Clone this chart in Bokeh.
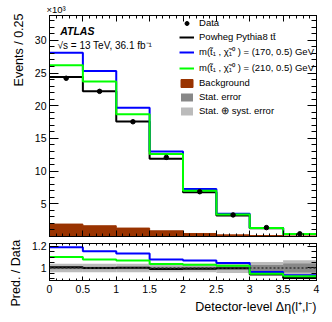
import numpy as np
from bokeh.plotting import figure
from bokeh.layouts import column
from bokeh.models import (FixedTicker, LinearAxis, Title, Label, Legend, LegendItem,
                          Span, CustomJSTickFormatter)
from bokeh.embed import file_html
from bokeh.resources import INLINE

# ---- data ----
edges = [0, 0.5, 1.0, 1.5, 2.0, 2.5, 3.0, 3.5, 4.0]
data = [24.2, 22.2, 17.55, 12.1, 6.85, 3.3, 1.36, 0.41]
powheg = [24.4, 22.2, 17.6, 11.9, 6.75, 3.2, 1.28, 0.37]
stop170 = [28.1, 25.3, 19.7, 13.0, 7.27, 3.48, 1.31, 0.38]
stop210 = [26.2, 23.7, 18.7, 12.6, 7.0, 3.35, 1.29, 0.37]
background = [1.9, 1.64, 1.29, 0.87, 0.46, 0.25, 0.15, 0.08]

ratio_powheg = [1.006, 1.0, 1.003, 0.99, 0.993, 0.998, 0.94, 0.908]
ratio_170 = [1.19, 1.154, 1.133, 1.077, 1.068, 1.046, 0.963, 0.933]
ratio_210 = [1.10, 1.077, 1.068, 1.037, 1.03, 1.02, 0.948, 0.925]
rel_stat = [0.012, 0.012, 0.012, 0.012, 0.012, 0.015, 0.028, 0.042]
rel_syst = [0.04, 0.04, 0.04, 0.04, 0.04, 0.045, 0.055, 0.07]

FONT = "Liberation Sans"
BLUE = "#0000ff"
GREEN = "#00ff00"
BROWN = "#993300"
DGREY = "#888888"
LGREY = "#bbbbbb"

lefts = edges[:-1]
rights = edges[1:]
centers = [(a + b) / 2 for a, b in zip(lefts, rights)]


def stepy(v):
    return list(v) + [v[-1]]


fmt = CustomJSTickFormatter(code="return (Math.round(tick*1000)/1000).toString();")
blank = CustomJSTickFormatter(code="return '';")


def style_axis(ax, major_in, minor_in, label_size="10.5px"):
    ax.axis_line_color = "black"
    ax.major_tick_line_color = "black"
    ax.minor_tick_line_color = "black"
    ax.major_tick_out = 0
    ax.minor_tick_out = 0
    ax.major_tick_in = major_in
    ax.minor_tick_in = minor_in
    ax.major_label_text_font = FONT
    ax.major_label_text_font_size = label_size
    ax.major_label_text_color = "black"
    ax.major_label_standoff = 3


def bare_axis(ax, major_in, minor_in):
    style_axis(ax, major_in, minor_in)
    ax.formatter = blank
    ax.major_label_standoff = 0


xticks = FixedTicker(ticks=edges, minor_ticks=[i / 10 for i in range(41)])
yticks_main = FixedTicker(ticks=[5, 10, 15, 20, 25, 30], minor_ticks=list(range(0, 35)))
yticks_ratio = FixedTicker(ticks=[1.0, 1.2], minor_ticks=[0.9, 0.95, 1.05, 1.1, 1.15])

# ---- main panel ----
p1 = figure(width=324, height=239, x_range=(0, 4), y_range=(0, 33.8),
            output_backend="svg", toolbar_location=None,
            min_border_left=49, min_border_right=8, min_border_top=15, min_border_bottom=3,
            background_fill_color="white", border_fill_color="white",
            outline_line_color="black")
p1.grid.visible = False

# the "x10^3" scale marker, top left above the frame
p1.title.text = "×10³"
p1.title.align = "left"
p1.title.offset = -3
p1.title.standoff = 1
p1.title.text_font = FONT
p1.title.text_font_size = "9.5px"
p1.title.text_font_style = "normal"
p1.title.text_color = "black"

r_bg = p1.quad(left=lefts, right=rights, bottom=0, top=background,
               fill_color=BROWN, line_color=BROWN)
r_pow = p1.step(edges, stepy(powheg), mode="after", line_color="black", line_width=2)
r_170 = p1.step(edges, stepy(stop170), mode="after", line_color=BLUE, line_width=2)
r_210 = p1.step(edges, stepy(stop210), mode="after", line_color=GREEN, line_width=2)
r_data = p1.scatter(centers, data, size=4.5, color="black")
# zero-height bands (only their legend entries are visible in the main panel)
r_stat = p1.quad(left=lefts, right=rights, bottom=powheg, top=powheg,
                 fill_color=DGREY, line_alpha=0)
r_syst = p1.quad(left=lefts, right=rights, bottom=powheg, top=powheg,
                 fill_color=LGREY, line_alpha=0)

p1.xaxis.ticker = xticks
p1.yaxis.ticker = yticks_main
bare_axis(p1.xaxis[0], 6, 3)
style_axis(p1.yaxis[0], 9, 5)

ax_r = LinearAxis(ticker=yticks_main)
bare_axis(ax_r, 9, 5)
p1.add_layout(ax_r, "right")
ax_t = LinearAxis(ticker=xticks)
bare_axis(ax_t, 6, 3)
p1.add_layout(ax_t, "above")

p1.add_layout(Title(text="Events / 0.25", align="right", text_font=FONT,
                    text_font_size="12.5px", text_font_style="normal",
                    text_color="black", standoff=12, offset=-2), "left")

p1.add_layout(Label(x=0.16, y=31.4, text="ATLAS", text_font=FONT,
                    text_font_style="bold italic", text_font_size="10.5px",
                    text_color="black", text_baseline="alphabetic"))
p1.add_layout(Label(x=0.12, y=29.25, text="√s = 13 TeV, 36.1 fb⁻¹", text_font=FONT,
                    text_font_size="10px", text_color="black", text_baseline="alphabetic"))

legend = Legend(items=[
    LegendItem(label="Data", renderers=[r_data]),
    LegendItem(label="Powheg Pythia8 tt̄", renderers=[r_pow]),
    LegendItem(label="m(t̃₁ , χ̃₁⁰ ) = (170, 0.5) GeV", renderers=[r_170]),
    LegendItem(label="m(t̃₁ , χ̃₁⁰ ) = (210, 0.5) GeV", renderers=[r_210]),
    LegendItem(label="Background", renderers=[r_bg]),
    LegendItem(label="Stat. error", renderers=[r_stat]),
    LegendItem(label="Stat. ⊕ syst. error", renderers=[r_syst]),
], location="top_right", glyph_width=15, glyph_height=10, label_height=10, spacing=3,
    padding=0, margin=2, border_line_alpha=0, background_fill_alpha=0,
    label_text_font=FONT, label_text_font_size="9.5px", label_text_color="black",
    label_standoff=5)
p1.add_layout(legend)

# ---- ratio panel ----
p2 = figure(width=324, height=80, x_range=p1.x_range, y_range=(0.885, 1.225),
            output_backend="svg", toolbar_location=None,
            min_border_left=49, min_border_right=8, min_border_top=4, min_border_bottom=39,
            background_fill_color="white", border_fill_color="white",
            outline_line_color="black")
p2.grid.visible = False

syst_lo = [1 - s for s in rel_syst]
syst_hi = [1 + s for s in rel_syst]
stat_lo = [1 - s for s in rel_stat]
stat_hi = [1 + s for s in rel_stat]
p2.quad(left=lefts, right=rights, bottom=syst_lo, top=syst_hi, fill_color=LGREY, line_color=None)
p2.quad(left=lefts, right=rights, bottom=stat_lo, top=stat_hi, fill_color=DGREY, line_color=None)
p2.add_layout(Span(location=1.0, dimension="width", line_color="#333333",
                   line_dash="2 2", line_width=1.5))
p2.step(edges, stepy(ratio_powheg), mode="after", line_color="black", line_width=2)
p2.step(edges, stepy(ratio_170), mode="after", line_color=BLUE, line_width=2)
p2.step(edges, stepy(ratio_210), mode="after", line_color=GREEN, line_width=2)

p2.xaxis.ticker = xticks
p2.yaxis.ticker = yticks_ratio
p2.xaxis.formatter = fmt
p2.yaxis.formatter = fmt
style_axis(p2.xaxis[0], 4, 2)
p2.xaxis.major_label_standoff = 4
style_axis(p2.yaxis[0], 9, 5)

ax_r2 = LinearAxis(ticker=yticks_ratio)
bare_axis(ax_r2, 9, 5)
p2.add_layout(ax_r2, "right")
ax_t2 = LinearAxis(ticker=xticks)
bare_axis(ax_t2, 4, 2)
p2.add_layout(ax_t2, "above")

p2.add_layout(Title(text="Pred. / Data", align="left", text_font=FONT,
                    text_font_size="12.5px", text_font_style="normal",
                    text_color="black", standoff=12, offset=-26), "left")
p2.add_layout(Title(text="Detector-level Δη(l⁺,l⁻)", align="right", text_font=FONT,
                    text_font_size="12.5px", text_font_style="normal",
                    text_color="black", standoff=4), "below")

layout = column(p1, p2, spacing=0)
open("out.html", "w").write(file_html(layout, INLINE))
